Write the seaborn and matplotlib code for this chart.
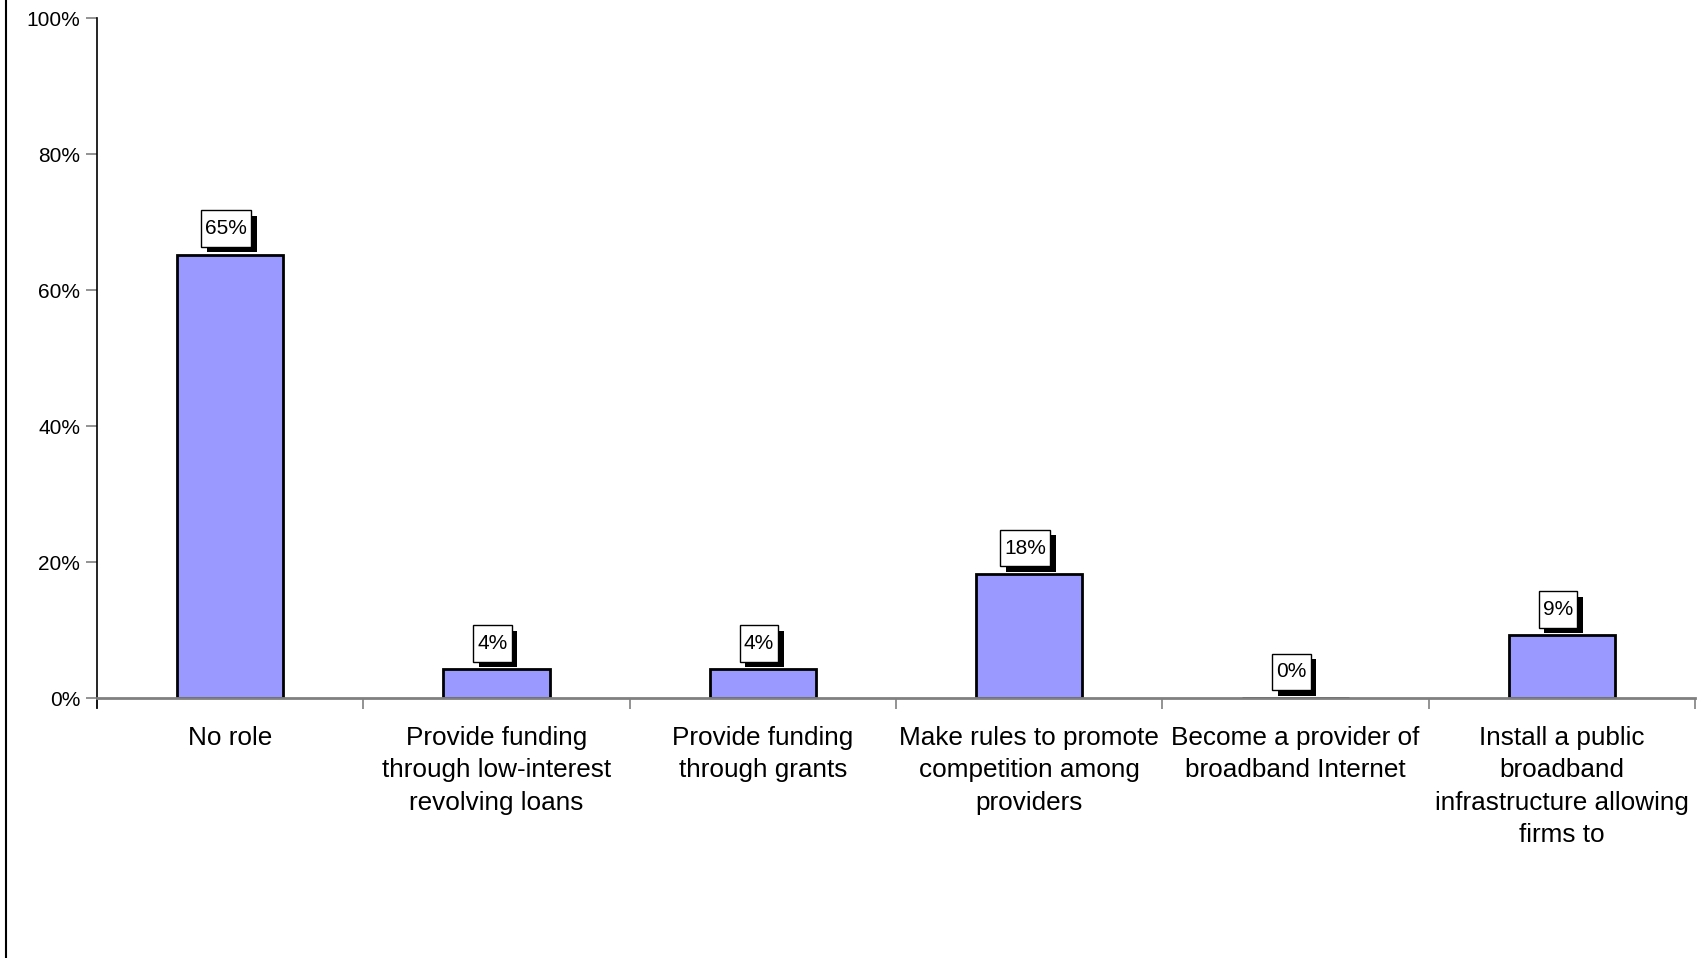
import matplotlib
matplotlib.use("Agg")
import matplotlib.pyplot as plt
import matplotlib.patheffects as pe
import seaborn as sns
import pandas as pd
from matplotlib.lines import Line2D
from matplotlib.path import Path

categories = [
    "No role",
    "Provide funding\nthrough low-interest\nrevolving loans",
    "Provide funding\nthrough grants",
    "Make rules to promote\ncompetition among\nproviders",
    "Become a provider of\nbroadband Internet",
    "Install a public\nbroadband\ninfrastructure allowing\nfirms to",
]
values = [65.2, 4.2, 4.2, 18.2, 0.0, 9.2]
labels = ["65%", "4%", "4%", "18%", "0%", "9%"]
yticks = [0, 20, 40, 60, 80, 100]

sns.set_theme(style="white")
plt.rcParams["font.family"] = ["Liberation Sans", "DejaVu Sans"]

df = pd.DataFrame({"cat": categories, "val": values})


def tall_box(x0, y0, width, height, mutation_size):
    """Rectangular label box with more vertical than horizontal padding."""
    px = 0.2 * mutation_size
    py = 0.42 * mutation_size
    x0, y0 = x0 - px, y0 - py
    x1, y1 = x0 + width + 2 * px, y0 + height + 2 * py
    return Path([(x0, y0), (x1, y0), (x1, y1), (x0, y1), (x0, y0)], closed=True)


fig = plt.figure(figsize=(17.01, 9.58), dpi=100)
ax = fig.add_axes([97 / 1701, 260 / 958, (1695 - 97) / 1701, (698 - 18) / 958])

sns.barplot(data=df, x="cat", y="val", color="#9999FF", saturation=1,
            edgecolor="black", linewidth=2, width=0.4, ax=ax)

ax.set_xlim(-0.5, len(categories) - 0.5)
ax.set_ylim(0, 100)
ax.set_xlabel("")
ax.set_ylabel("")

# spines first (set_position resets tick settings)
for s in ["top", "right"]:
    ax.spines[s].set_visible(False)
ax.spines["left"].set_position(("data", -0.5))
ax.spines["left"].set_color("black")
ax.spines["left"].set_linewidth(1.2)
ax.spines["left"].set_bounds(-1.5, 100)
ax.spines["bottom"].set_color("#808080")
ax.spines["bottom"].set_linewidth(2)

# y axis
ax.set_yticks(yticks)
ax.set_yticklabels([f"{t}%" for t in yticks])
ax.tick_params(axis="y", direction="out", length=8, width=1.2, color="#808080",
               pad=4, left=True, labelsize=15, labelcolor="black")

# x axis: ticks at category boundaries, labels at centres
ax.set_xticks([i - 0.5 for i in range(len(categories) + 1)])
ax.set_xticklabels([])
ax.set_xticks(range(len(categories)), minor=True)
ax.set_xticklabels(categories, minor=True, fontsize=18.8, linespacing=1.45,
                   va="top", color="black")
ax.tick_params(axis="x", which="major", direction="out", length=8, width=1.2,
               color="#808080", bottom=True)
ax.tick_params(axis="x", which="minor", length=0, pad=20)

# data labels in white boxes with a solid drop shadow
for i, (v, lab) in enumerate(zip(values, labels)):
    t = ax.annotate(lab, xy=(i, v), xytext=(-2.9, 18.8), textcoords="offset points",
                    ha="center", va="center", fontsize=15, color="black",
                    bbox=dict(boxstyle=tall_box, fc="white", ec="black", lw=1),
                    zorder=5)
    t.get_bbox_patch().set_path_effects([
        pe.SimplePatchShadow(offset=(4, -4), shadow_rgbFace="black", alpha=1),
        pe.Normal(),
    ])

# left frame line of the chart area
fig.add_artist(Line2D([6 / 1701, 6 / 1701], [0, 1], color="black", lw=1.5,
                      transform=fig.transFigure))

fig.savefig("out.png", dpi=100, facecolor="white")
